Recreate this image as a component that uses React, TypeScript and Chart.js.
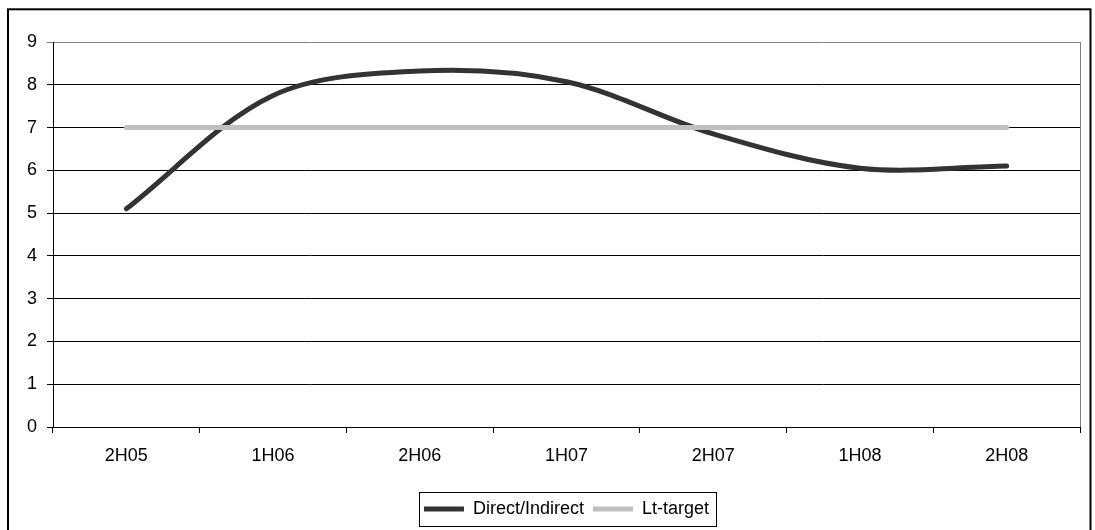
import React, { useEffect, useRef } from "react";
import { Chart, registerables } from "chart.js";

Chart.register(...registerables);

const categories = ["2H05", "1H06", "2H06", "1H07", "2H07", "1H08", "2H08"];
const directIndirect = [5.1, 7.75, 8.32, 8.07, 6.85, 6.05, 6.1];
const ltTarget = [7, 7, 7, 7, 7, 7, 7];
const yMin = 0;
const yMax = 9;

const FONT = "'Liberation Sans', Arial, sans-serif";

const framePlugin = {
  id: "frame",
  beforeDatasetsDraw(chart: any) {
    const { ctx, chartArea } = chart;
    ctx.save();
    ctx.strokeStyle = "#808080";
    ctx.lineWidth = 1;
    ctx.beginPath();
    ctx.moveTo(Math.round(chartArea.right) + 0.5, chartArea.top);
    ctx.lineTo(Math.round(chartArea.right) + 0.5, chartArea.bottom);
    ctx.stroke();
    ctx.restore();
  },
  afterDraw(chart: any) {
    const { ctx } = chart;
    ctx.save();
    // outer border
    ctx.strokeStyle = "#000";
    ctx.lineWidth = 2;
    ctx.strokeRect(8, 9.3, 1082.5, 540);
    // legend border
    const lg = chart.legend;
    if (lg && lg.legendHitBoxes && lg.legendHitBoxes.length) {
      const hb = lg.legendHitBoxes;
      const left = Math.round(Math.min(...hb.map((h: any) => h.left)) - 5) + 0.5;
      const right = Math.round(Math.max(...hb.map((h: any) => h.left + h.width)) + 7) + 0.5;
      const cy = hb[0].top + hb[0].height / 2;
      const top = Math.round(cy - 17) + 0.5;
      const bottom = Math.round(cy + 17) + 0.5;
      ctx.lineWidth = 1;
      ctx.strokeStyle = "#000";
      ctx.strokeRect(left, top, right - left, bottom - top);
    }
    ctx.restore();
  },
};

export default function App() {
  const ref = useRef<HTMLCanvasElement | null>(null);

  useEffect(() => {
    if (!ref.current) return;
    const chart = new Chart(ref.current, {
      type: "line",
      data: {
        labels: categories,
        datasets: [
          {
            label: "Direct/Indirect",
            data: directIndirect,
            borderColor: "#333333",
            backgroundColor: "#333333",
            borderWidth: 5,
            borderCapStyle: "round",
            borderJoinStyle: "round",
            tension: 0.33,
            pointRadius: 0,
            pointHoverRadius: 0,
            fill: false,
            order: 2,
          },
          {
            label: "Lt-target",
            data: ltTarget,
            borderColor: "#c0c0c0",
            backgroundColor: "#c0c0c0",
            borderWidth: 5,
            borderCapStyle: "round",
            tension: 0,
            pointRadius: 0,
            pointHoverRadius: 0,
            fill: false,
            order: 1,
          },
        ],
      },
      options: {
        responsive: false,
        animation: false,
        events: [],
        layout: { padding: { left: 0, right: 15, top: 42, bottom: 2 } },
        scales: {
          x: {
            type: "category",
            offset: true,
            grid: {
              offset: true,
              drawOnChartArea: false,
              drawTicks: true,
              tickLength: 6,
              color: "#000",
            },
            border: { display: true, color: "#000", width: 1 },
            ticks: {
              color: "#000",
              font: { family: FONT, size: 18 },
              padding: 12,
              maxRotation: 0,
              autoSkip: false,
            },
            afterFit(scale: any) {
              scale.height = 64;
            },
          },
          y: {
            min: yMin,
            max: yMax,
            grid: {
              color: (c: any) => (c.tick && c.tick.value === yMax ? "#808080" : "#000"),
              tickLength: 6,
              drawTicks: true,
            },
            border: { display: true, color: "#000", width: 1 },
            ticks: {
              stepSize: 1,
              color: "#000",
              font: { family: FONT, size: 18 },
              padding: 10,
            },
            afterFit(scale: any) {
              scale.width = 53;
            },
          },
        },
        plugins: {
          tooltip: { enabled: false },
          title: { display: false },
          legend: {
            display: true,
            position: "bottom",
            fullSize: false,
            labels: {
              color: "#000",
              font: { family: FONT, size: 18 },
              boxWidth: 40,
              boxHeight: 5,
              padding: 9,
              sort: (a: any, b: any) => a.datasetIndex - b.datasetIndex,
              generateLabels(chart: any) {
                const items = Chart.defaults.plugins.legend.labels.generateLabels(chart);
                return items.map((it: any) => ({ ...it, lineWidth: 0 }));
              },
            },
          },
        },
      },
      plugins: [framePlugin],
    });
    return () => chart.destroy();
  }, []);

  return (
    <canvas
      ref={ref}
      width={1095}
      height={530}
      style={{ position: "absolute", left: 0, top: 0, display: "block" }}
    />
  );
}
